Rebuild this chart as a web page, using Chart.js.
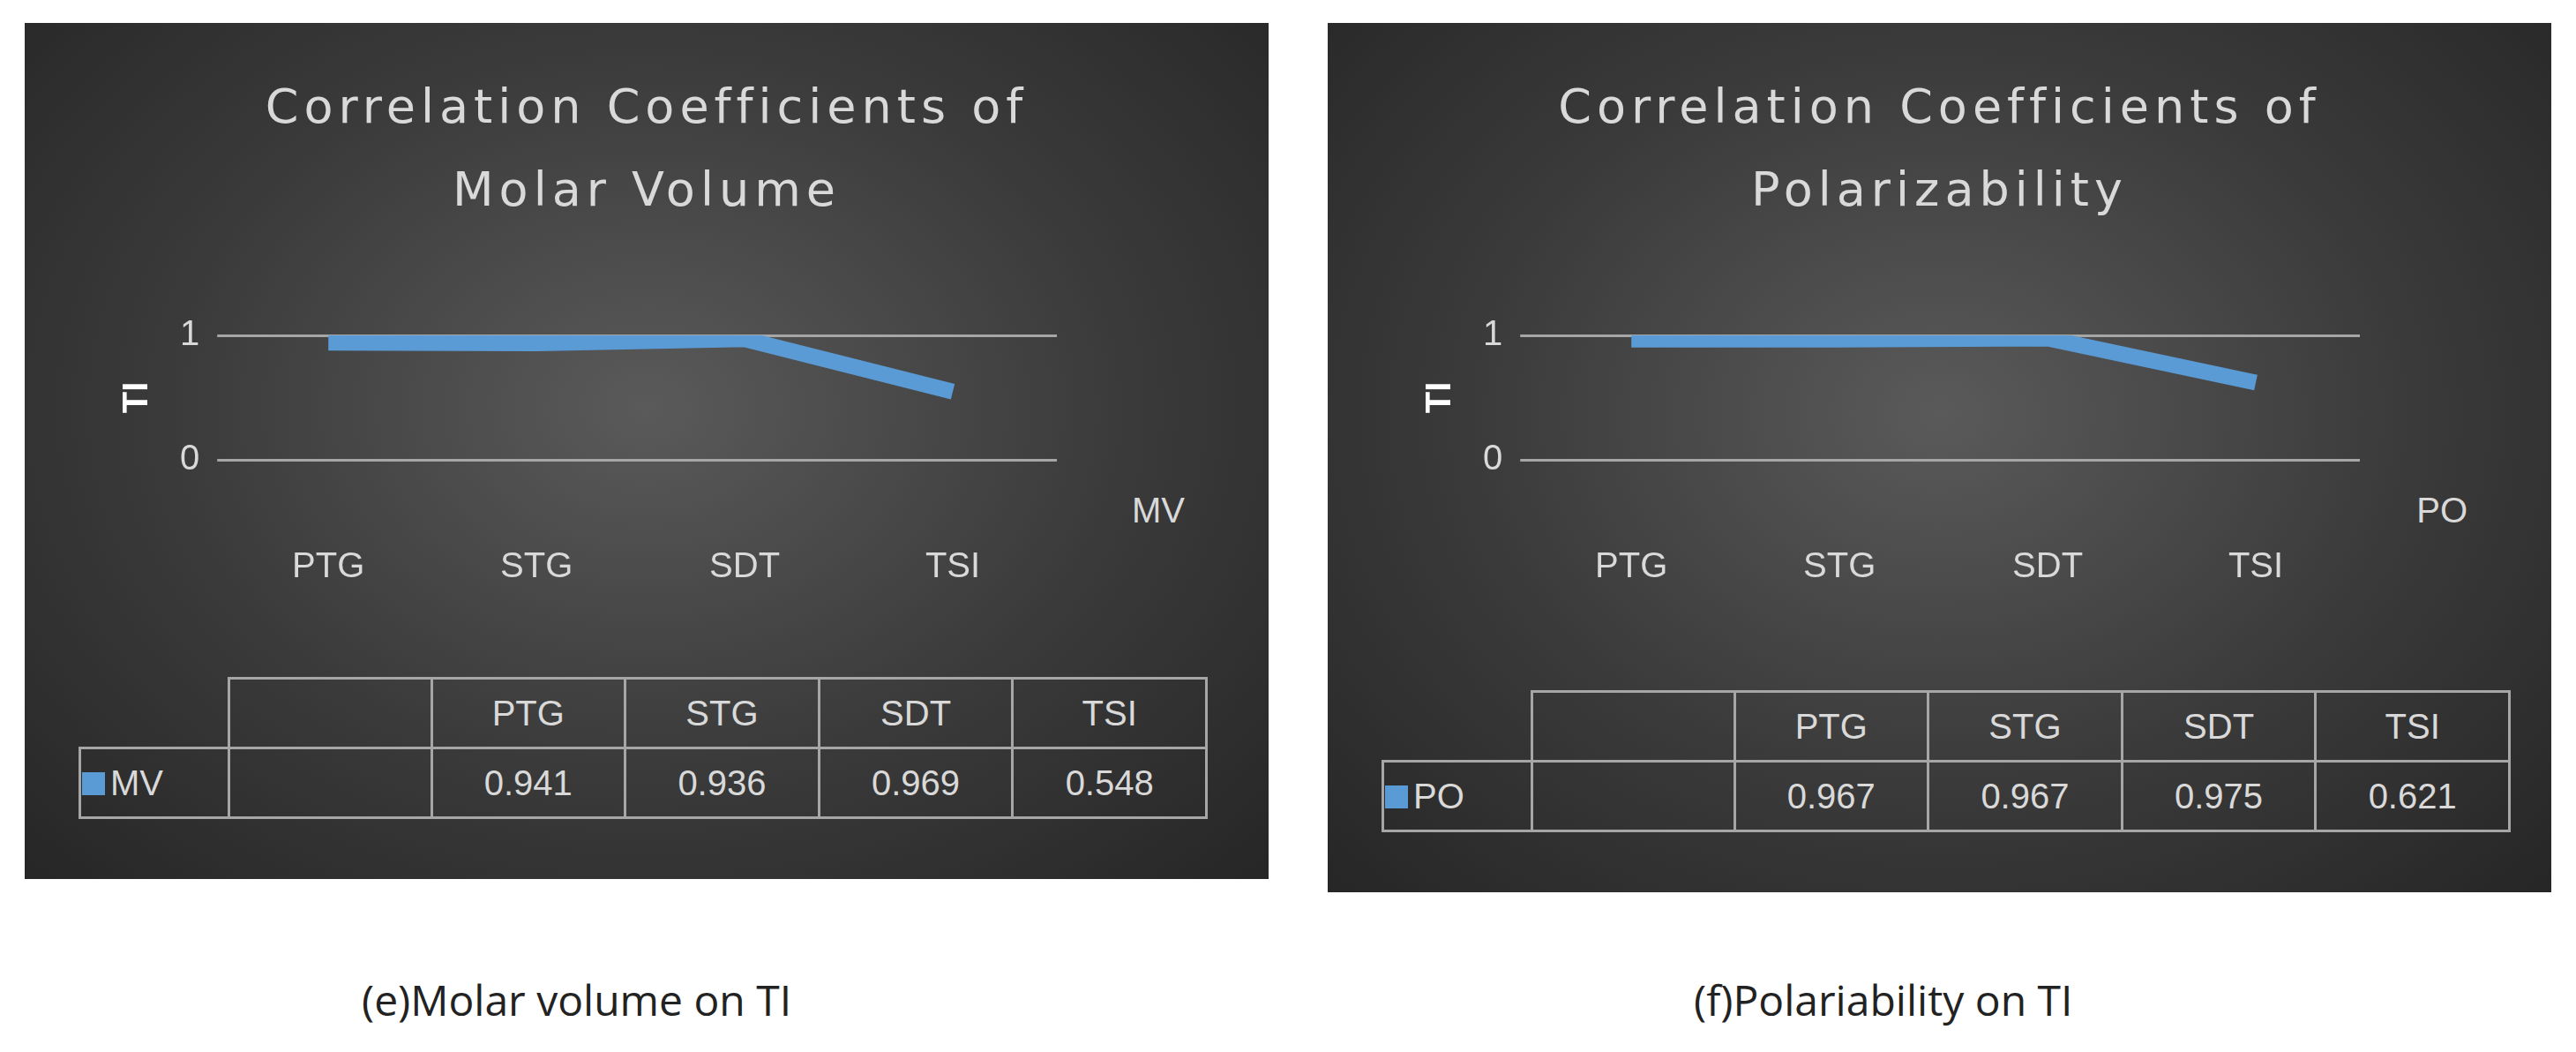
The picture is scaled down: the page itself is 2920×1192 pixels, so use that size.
<!DOCTYPE html>
<html><head><meta charset="utf-8">
<script src="https://cdn.jsdelivr.net/npm/chart.js@4"></script>
<style>
body{margin:0;background:#fff;width:2920px;height:1192px;position:relative;font-family:"Liberation Sans",Calibri,sans-serif;overflow:hidden}
.panel{position:absolute;background:radial-gradient(ellipse at 50% 45%,#5a5a5a 0%,#3a3a3a 55%,#262626 100%)}
.title{position:absolute;left:0;right:0;text-align:center;color:#d9d9d9;font-size:54px;letter-spacing:6px;line-height:94px;top:48px;font-family:"DejaVu Sans",sans-serif}
.plot{position:absolute}
.ser{position:absolute;color:#d9d9d9;font-size:40px}
table{position:absolute;border-collapse:collapse;color:#d9d9d9;font-size:40px}
td{border:3px solid #a6a6a6;text-align:center;height:74px}
td.e{border:none}
.key{display:inline-block;width:26px;height:26px;background:#5b9bd5;margin-right:6px}
.cap{position:absolute;top:1100px;font-size:48px;color:#222;font-family:"Open Sans",sans-serif}
</style></head><body>
<div class="panel" id="p0" style="left:28px;top:26px;width:1410px;height:970px"></div>
<div class="panel" id="p1" style="left:1505px;top:26px;width:1387px;height:985px"></div>
<div class="cap" style="left:410px">(e)Molar volume on TI</div>
<div class="cap" style="left:1920px">(f)Polariability on TI</div>
<script>
const categories = ["PTG", "STG", "SDT", "TSI"];
const mvValues = [0.941, 0.936, 0.969, 0.548];
const poValues = [0.967, 0.967, 0.975, 0.621];
const yTicks = [0, 1];
const panels = [
  {id:"p0", title:["Correlation Coefficients of","Molar Volume"], series:"MV", data:mvValues, tableTop:741},
  {id:"p1", title:["Correlation Coefficients of","Polarizability"], series:"PO", data:poValues, tableTop:756}
];
panels.forEach(p=>{
  const el=document.getElementById(p.id);
  el.innerHTML='<div class="title">'+p.title.join('<br>')+'</div>'+
    '<div class="plot" style="left:100px;top:310px;width:1130px;height:360px"><canvas></canvas></div>'+
    '<div class="ser" style="right:95px;top:530px">'+p.series+'</div>';
  let t='<table style="left:61px;top:'+p.tableTop+'px;width:1280px"><tr><td class="e" style="width:165px"></td><td style="width:225px"></td>';
  categories.forEach(c=>t+='<td>'+c+'</td>');
  t+='</tr><tr><td style="text-align:left"><span class="key"></span>'+p.series+'</td><td></td>';
  p.data.forEach(v=>t+='<td>'+v.toFixed(3)+'</td>');
  t+='</tr></table>';
  el.insertAdjacentHTML('beforeend',t);
  new Chart(el.querySelector('canvas'),{
    type:'line',
    data:{labels:categories,datasets:[{label:p.series,data:p.data,borderColor:'#5b9bd5',borderWidth:18,pointRadius:0,tension:0}]},
    options:{responsive:true,maintainAspectRatio:false,animation:false,
      plugins:{legend:{display:false},tooltip:{enabled:false}},
      layout:{padding:{right:60,top:10}},
      scales:{
        x:{offset:true,grid:{display:false},border:{display:false},ticks:{color:'#d9d9d9',font:{size:40},padding:90}},
        y:{min:0,max:1,afterBuildTicks:a=>{a.ticks=yTicks.map(v=>({value:v}))},
          grid:{color:'#a6a6a6',lineWidth:3},border:{display:false},
          ticks:{color:'#d9d9d9',font:{size:40},padding:20},
          title:{display:true,text:'TI',color:'#ffffff',font:{size:40,weight:'bold'}}}
      }}
  });
});
</script>
</body></html>
